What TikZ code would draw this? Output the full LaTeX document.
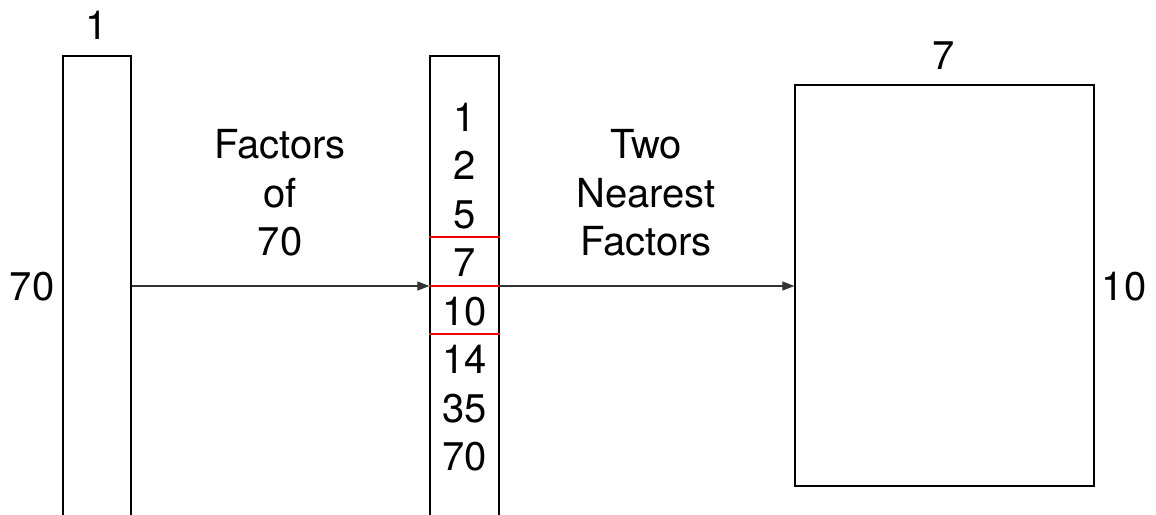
\documentclass[tikz,border=0pt]{standalone}
\usepackage{fontspec}
\setmainfont{TeX Gyre Heros}
\usetikzlibrary{arrows.meta}
\begin{document}
\begin{tikzpicture}[x=1pt,y=-1pt,
  bar/.style={draw=black, line width=1.3pt, inner sep=0pt, fill=none},
  lbl/.style={font=\fontsize{40}{48}\selectfont, inner sep=0pt, anchor=base},
  flow/.style={line width=1.1pt, draw=black!80, -{Triangle[length=12pt,width=9pt]}},
  redsep/.style={draw=red!95!black, line width=2.2pt}
]
\useasboundingbox (0,0) rectangle (1156,514);

% boxes (the two bars run past the lower edge)
\node[bar, minimum width=68pt, minimum height=474pt] (L) at (97,293) {};
\node[bar, minimum width=69pt, minimum height=474pt] (M) at (464.5,293) {};
\node[bar, minimum width=299pt, minimum height=401pt] (R) at (944.5,285.5) {};

% labels around the bars
\node[lbl] (top1) at (97,39) {1};
\node[lbl] (left70) at (32,300) {70};
\node[lbl] (top7) at (944,69) {7};
\node[lbl] (right10) at (1124,300) {10};

% list of factors
\foreach \v [count=\i] in {1,2,5,7,10,14,35,70}
  \node[lbl] (n\i) at (464.5,{131+48.5*(\i-1)}) {\v};

% red separators around the chosen pair
\coordinate (s1) at (0,237);
\coordinate (s2) at (0,286);
\coordinate (s3) at (0,334);
\foreach \s in {s1,s2,s3}
  \draw[redsep] (M.west |- \s) -- (M.east |- \s);

% arrow captions
\node[lbl] (f1) at (280,158) {Factors};
\node[lbl] (f2) at (280,207) {of};
\node[lbl] (f3) at (280,255) {70};
\node[lbl] (t1) at (646,158) {Two};
\node[lbl] (t2) at (646,207) {Nearest};
\node[lbl] (t3) at (646,255) {Factors};

% connectors
\coordinate (axis) at (0,286);
\draw[flow] (L.east |- axis) -- (M.west |- axis);
\draw[flow] (M.east |- axis) -- (R.west |- axis);
\end{tikzpicture}
\end{document}
